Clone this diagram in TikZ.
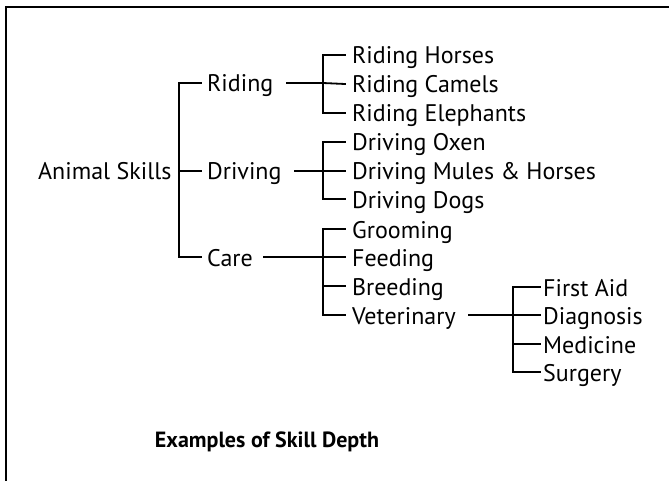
\documentclass[tikz,border=0pt]{standalone}
\usepackage{fontspec}
\setmainfont{PT Sans}
\begin{document}
\begin{tikzpicture}[x=1pt,y=-1pt,
  lbl/.style={anchor=west,inner sep=0pt,text height=23pt,text depth=5pt,font=\fontsize{24}{26}\selectfont},
  conn/.style={line width=1.8pt,line cap=rect}]
\useasboundingbox (0,0) rectangle (669,481);
\draw[line width=1.8pt] (6,481) -- (6,7) -- (669,7);
% nodes
\node[lbl] (root) at (38,171) {Animal Skills};
\node[lbl] (riding) at (207,83) {Riding};
\node[lbl] (driving) at (207,171) {Driving};
\node[lbl] (care) at (207,257) {Care};
\node[lbl] (rh) at (352,55) {Riding Horses};
\node[lbl] (rc) at (352,84) {Riding Camels};
\node[lbl] (re) at (352,113) {Riding Elephants};
\node[lbl] (do) at (352,142) {Driving Oxen};
\node[lbl] (dm) at (352,171) {Driving Mules \& Horses};
\node[lbl] (dd) at (352,199) {Driving Dogs};
\node[lbl] (gr) at (352,229) {Grooming};
\node[lbl] (fe) at (352,257) {Feeding};
\node[lbl] (br) at (352,286) {Breeding};
\node[lbl] (ve) at (352,315) {Veterinary};
\node[lbl] (fa) at (543,287) {First Aid};
\node[lbl] (di) at (543,315) {Diagnosis};
\node[lbl] (me) at (543,344) {Medicine};
\node[lbl] (su) at (543,372) {Surgery};
\node[anchor=base,inner sep=0pt,font=\bfseries\fontsize{22}{24}\selectfont] (title) at (267,447) {Examples of Skill Depth};
% junctions
\coordinate (j0) at (179,171);
\coordinate (jr) at (323,83);
\coordinate (jd) at (323,171);
\coordinate (jc) at (323,257);
\coordinate (jv) at (513,315);
% level 1
\draw[conn] ([xshift=-6pt]riding.west) -| (j0) |- ([xshift=-6pt]care.west);
\draw[conn] (j0) -- ([xshift=-6pt]driving.west);
% riding
\draw[conn] ([xshift=13pt]riding.east) -- (jr);
\draw[conn] ([xshift=-7pt]rh.west) -| (jr) |- ([xshift=-7pt]re.west);
\draw[conn] (jr) -- ([xshift=-7pt]rc.west);
% driving
\draw[conn] ([xshift=13pt]driving.east) -- (jd);
\draw[conn] ([xshift=-7pt]do.west) -| (jd) |- ([xshift=-7pt]dd.west);
\draw[conn] (jd) -- ([xshift=-7pt]dm.west);
% care
\draw[conn] ([xshift=11pt]care.east) -- (jc);
\draw[conn] ([xshift=-7pt]gr.west) -| (jc) |- ([xshift=-7pt]ve.west);
\draw[conn] (jc) -- ([xshift=-7pt]fe.west);
\draw[conn] (jc |- br.west) -- ([xshift=-7pt]br.west);
% veterinary
\draw[conn] ([xshift=13pt]ve.east) -- (jv);
\draw[conn] ([xshift=-3pt]fa.west) -| (jv) |- ([xshift=-3pt]su.west);
\draw[conn] (jv) -- ([xshift=-3pt]di.west);
\draw[conn] (jv |- me.west) -- ([xshift=-3pt]me.west);
\end{tikzpicture}
\end{document}
